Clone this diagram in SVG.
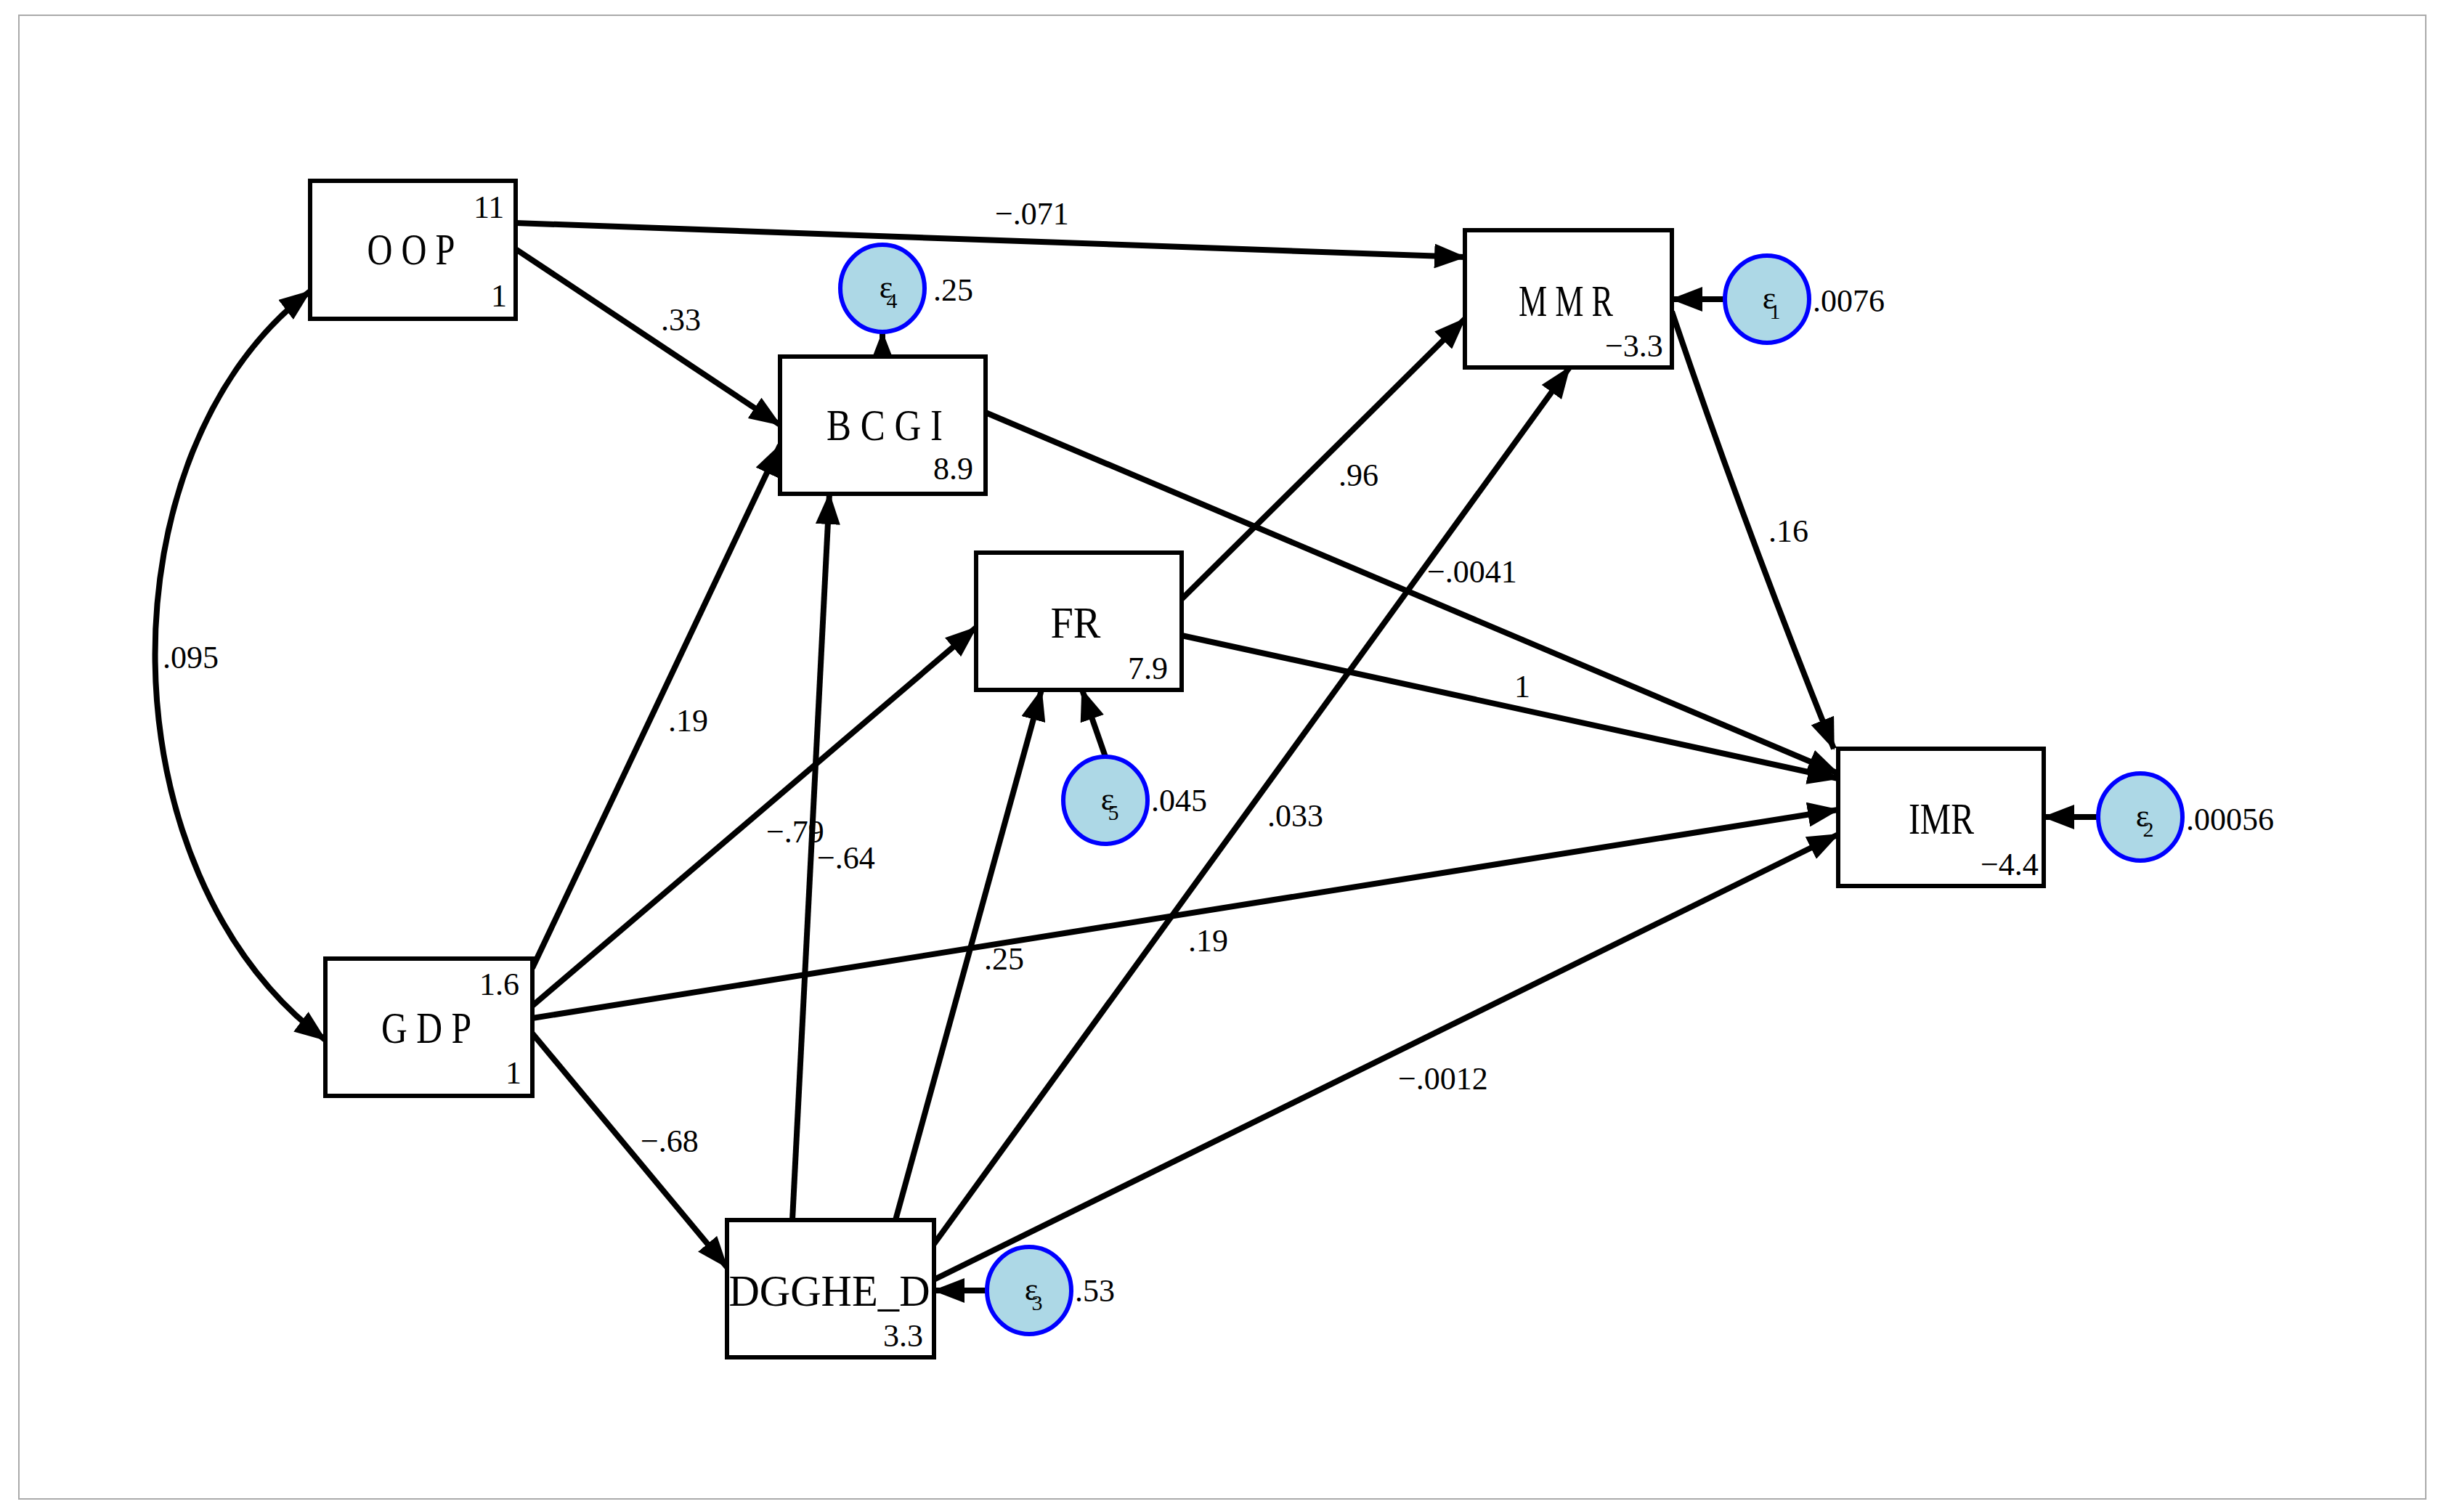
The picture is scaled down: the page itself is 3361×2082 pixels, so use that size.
<svg xmlns="http://www.w3.org/2000/svg" width="3361" height="2082" viewBox="0 0 3361 2082">
<style>
.box{fill:#fff;stroke:#000;stroke-width:6}
.err{fill:#add8e6;stroke:#0000ff;stroke-width:6}
.e{fill:none;stroke:#000;stroke-width:8}
.lbl{font-family:"Liberation Serif",serif;font-size:62px;text-anchor:middle;dominant-baseline:central}
.num{font-family:"Liberation Serif",serif;font-size:44px;dominant-baseline:central}
.eps{font-family:"Liberation Serif",serif;font-size:44px;text-anchor:middle;dominant-baseline:central}
.sub{font-family:"Liberation Serif",serif;font-size:30px;text-anchor:middle;dominant-baseline:central}
</style>
<defs>
<marker id="a" markerUnits="userSpaceOnUse" markerWidth="44" markerHeight="34" refX="42" refY="17" orient="auto"><path d="M0,0 L44,17 L0,34 Z" fill="#000"/></marker>
<marker id="s" markerUnits="userSpaceOnUse" markerWidth="44" markerHeight="34" refX="2" refY="17" orient="auto"><path d="M44,0 L0,17 L44,34 Z" fill="#000"/></marker>
</defs>
<rect x="26" y="21" width="3314" height="2043" fill="#fff" stroke="#aaa" stroke-width="2"/>
<g id="connectors">
<line class="e" x1="710" y1="307" x2="2017" y2="354" marker-end="url(#a)"/>
<line class="e" x1="710" y1="343" x2="1074" y2="585" marker-end="url(#a)"/>
<line class="e" x1="1215" y1="491" x2="1215" y2="458" marker-end="url(#a)"/>
<line class="e" x1="1357" y1="568" x2="2531" y2="1065" marker-end="url(#a)"/>
<line class="e" x1="1627" y1="825" x2="2017" y2="439" marker-end="url(#a)"/>
<line class="e" x1="1627" y1="875" x2="2531" y2="1072" marker-end="url(#a)"/>
<path class="e" d="M2302,429 Q2400,720 2525,1031" marker-end="url(#a)"/>
<line class="e" x1="733" y1="1333" x2="1074" y2="613" marker-end="url(#a)"/>
<line class="e" x1="733" y1="1385" x2="1344" y2="864" marker-end="url(#a)"/>
<line class="e" x1="733" y1="1402" x2="2531" y2="1115" marker-end="url(#a)"/>
<line class="e" x1="733" y1="1423" x2="1001" y2="1745" marker-end="url(#a)"/>
<line class="e" x1="1091" y1="1680" x2="1142" y2="680" marker-end="url(#a)"/>
<line class="e" x1="1233" y1="1680" x2="1434" y2="950" marker-end="url(#a)"/>
<line class="e" x1="1286" y1="1713" x2="2161" y2="506" marker-end="url(#a)"/>
<line class="e" x1="1286" y1="1762" x2="2531" y2="1149" marker-end="url(#a)"/>
<line class="e" x1="2373" y1="412" x2="2302" y2="412" marker-end="url(#a)"/>
<line class="e" x1="2887" y1="1125" x2="2814" y2="1125" marker-end="url(#a)"/>
<line class="e" x1="1357" y1="1777" x2="1286" y2="1777" marker-end="url(#a)"/>
<line class="e" x1="1522" y1="1042" x2="1490" y2="950" marker-end="url(#a)"/>
<path class="e" d="M427,401 C139,620 139,1200 448,1432" marker-start="url(#s)" marker-end="url(#a)"/>
<g class="num">
<text x="1370" y="294">−.071</text>
<text x="910" y="440">.33</text>
<text x="1965" y="787">−.0041</text>
<text x="1843" y="654">.96</text>
<text x="2085" y="945">1</text>
<text x="2435" y="731">.16</text>
<text x="920" y="992">.19</text>
<text x="1055" y="1145">−.79</text>
<text x="1355" y="1320">.25</text>
<text x="882" y="1571">−.68</text>
<text x="1125" y="1181">−.64</text>
<text x="1745" y="1123">.033</text>
<text x="1636" y="1295">.19</text>
<text x="1925" y="1485">−.0012</text>
<text x="224" y="905">.095</text>
</g>
</g>
<g id="OOP"><rect class="box" x="427" y="249" width="283" height="190"/><text class="lbl" x="566" y="343" textLength="121" lengthAdjust="spacingAndGlyphs">O O P</text><text class="num" x="652" y="285">11</text><text class="num" x="676" y="407">1</text></g>
<g id="BCGI"><rect class="box" x="1074" y="491" width="283" height="189"/><text class="lbl" x="1218" y="585" textLength="160" lengthAdjust="spacingAndGlyphs">B C G I</text><text class="num" x="1285" y="645">8.9</text></g>
<g id="MMR"><rect class="box" x="2017" y="317" width="285" height="189"/><text class="lbl" x="2156" y="414" textLength="130" lengthAdjust="spacingAndGlyphs">M M R</text><text class="num" x="2210" y="476">−3.3</text></g>
<g id="FR"><rect class="box" x="1344" y="761" width="283" height="189"/><text class="lbl" x="1481" y="857" textLength="69" lengthAdjust="spacingAndGlyphs">FR</text><text class="num" x="1553" y="920">7.9</text></g>
<g id="IMR"><rect class="box" x="2531" y="1031" width="283" height="189"/><text class="lbl" x="2673" y="1127" textLength="90" lengthAdjust="spacingAndGlyphs">IMR</text><text class="num" x="2727" y="1190">−4.4</text></g>
<g id="GDP"><rect class="box" x="448" y="1320" width="285" height="189"/><text class="lbl" x="587" y="1415" textLength="124" lengthAdjust="spacingAndGlyphs">G D P</text><text class="num" x="660" y="1355">1.6</text><text class="num" x="696" y="1477">1</text></g>
<g id="DGGHE_D"><rect class="box" x="1001" y="1680" width="285" height="189"/><text class="lbl" x="1142" y="1777" textLength="277" lengthAdjust="spacingAndGlyphs">DGGHE_D</text><text class="num" x="1216" y="1839">3.3</text></g>
<g id="e4"><ellipse class="err" cx="1215" cy="397" rx="58" ry="60"/><text class="eps" x="1220" y="395">ε</text><text class="sub" x="1228" y="413">4</text><text class="num" x="1285" y="399">.25</text></g>
<g id="e1"><ellipse class="err" cx="2433" cy="412" rx="58" ry="60"/><text class="eps" x="2436" y="410">ε</text><text class="sub" x="2444" y="428">1</text><text class="num" x="2496" y="414">.0076</text></g>
<g id="e5"><ellipse class="err" cx="1522" cy="1102" rx="58" ry="60"/><text class="eps" x="1525" y="1100">ε</text><text class="sub" x="1533" y="1118">5</text><text class="num" x="1585" y="1102">.045</text></g>
<g id="e2"><ellipse class="err" cx="2947" cy="1125" rx="58" ry="60"/><text class="eps" x="2950" y="1123">ε</text><text class="sub" x="2958" y="1141">2</text><text class="num" x="3010" y="1128">.00056</text></g>
<g id="e3"><ellipse class="err" cx="1417" cy="1777" rx="58" ry="60"/><text class="eps" x="1420" y="1775">ε</text><text class="sub" x="1428" y="1793">3</text><text class="num" x="1480" y="1777">.53</text></g>
</svg>
